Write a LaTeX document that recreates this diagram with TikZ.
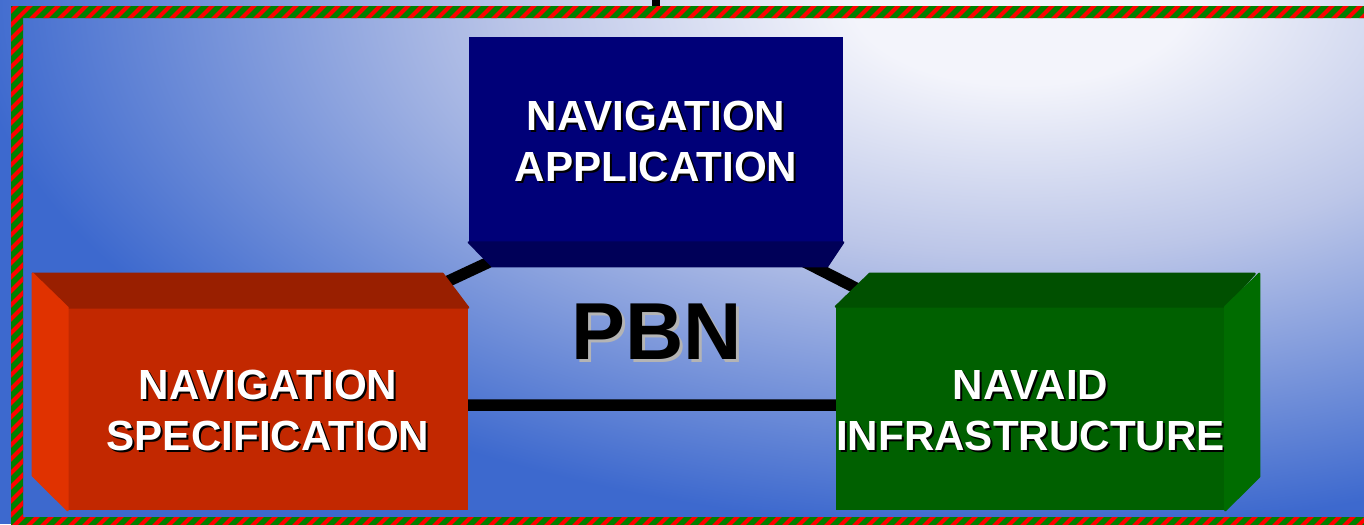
\documentclass[tikz,border=0pt]{standalone}
\usepackage{fontspec}
\setmainfont{Liberation Sans}
\usetikzlibrary{positioning}

\definecolor{skyblue}{HTML}{3D69CE}
\definecolor{glowwhite}{HTML}{F3F4FB}
\definecolor{glowmid}{HTML}{BCC6E8}
\definecolor{framegreen}{HTML}{008000}
\definecolor{framered}{HTML}{FF0000}
\definecolor{appfront}{HTML}{000078}
\definecolor{appdark}{HTML}{000058}
\definecolor{specfront}{HTML}{C22800}
\definecolor{specdark}{HTML}{991F00}
\definecolor{speclight}{HTML}{E03200}
\definecolor{navaidfront}{HTML}{006000}
\definecolor{navaiddark}{HTML}{005000}
\definecolor{navaidlight}{HTML}{006C00}
\definecolor{pbnshadow}{HTML}{B4B4B4}

\pgfdeclareradialshading{skyglow}{\pgfpoint{0bp}{0bp}}{color(0bp)=(glowwhite); color(4bp)=(glowwhite); color(12bp)=(glowmid); color(25bp)=(skyblue); color(50bp)=(skyblue)}

\newcommand{\shadowed}[3]{\makebox[0pt][l]{\hspace*{#1}\raisebox{-#1}{\textcolor{#2}{#3}}}#3}
\newcommand{\boxlabel}[1]{\raisebox{-0.14cm}[\height][\depth]{\shadowed{0.04cm}{black}{\begin{tabular}{@{}c@{}}#1\end{tabular}}}}

\begin{document}
\begin{tikzpicture}[x=0.02cm, y=-0.02cm,
    face/.style={inner sep=0pt, text=white, font=\fontsize{24}{29}\selectfont\bfseries},
    side/.style={line width=1.2pt, line join=round},
    link/.style={line width=0.23cm}]
  \useasboundingbox (0,0) rectangle (1364,524);
  \clip (0,0) rectangle (1364,524);

  % background
  \fill[skyblue] (0,0) rectangle (1364,524);
  \shade[shading=skyglow] (1020,0) ellipse [x radius=21cm, y radius=10.6cm];

  % striped frame
  \begin{scope}[even odd rule]
    \clip (11,6) rectangle (1380,540) (23,18) rectangle (1368,517);
    \fill[framegreen] (0,0) rectangle (1380,540);
    \foreach \s in {-560,-546,...,1380}
      \draw[framered, line width=0.08cm] (\s,540) -- ++(560,-560);
  \end{scope}
  \fill (652,0) rectangle (660,6);

  % triangle behind the boxes
  \coordinate (app-hub) at (654,185);
  \coordinate (spec-hub) at (183,405);
  \coordinate (navaid-hub) at (1085,405);
  \draw[link] (spec-hub) -- (app-hub) -- (navaid-hub) -- cycle;

  \node[font=\fontsize{46}{50}\selectfont\bfseries] (pbn) at (657,333)
    {\shadowed{0.06cm}{pbnshadow}{PBN}};

  % navigation application
  \node[face, fill=appfront, minimum width=7.48cm, minimum height=4.1cm] (app) at (656,139.5)
    {\boxlabel{NAVIGATION\\APPLICATION}};
  \filldraw[side, appdark] (app.south west) -- (app.south east) -- ++(-16,24) -- ++(-335,0) -- cycle;

  % navigation specification
  \node[face, fill=specfront, minimum width=8cm, minimum height=4.04cm] (spec) at (268,409)
    {\boxlabel{NAVIGATION\\SPECIFICATION}};
  \filldraw[side, specdark] (spec.north west) -- ++(-35,-34) -- ++(410,0) -- (spec.north east) -- cycle;
  \filldraw[side, speclight] (spec.north west) -- ++(-35,-34) -- ++(0,202) -- (spec.south west) -- cycle;

  % navaid infrastructure
  \node[face, fill=navaidfront, minimum width=7.7cm, minimum height=4.06cm] (navaid) at (1030.5,408.5)
    {\boxlabel{NAVAID\\INFRASTRUCTURE}};
  \filldraw[side, navaiddark] (navaid.north west) -- ++(34,-33) -- ++(385,0) -- (navaid.north east) -- cycle;
  \filldraw[side, navaidlight] (navaid.north east) -- ++(34,-33) -- ++(0,203) -- (navaid.south east) -- cycle;
\end{tikzpicture}
\end{document}
